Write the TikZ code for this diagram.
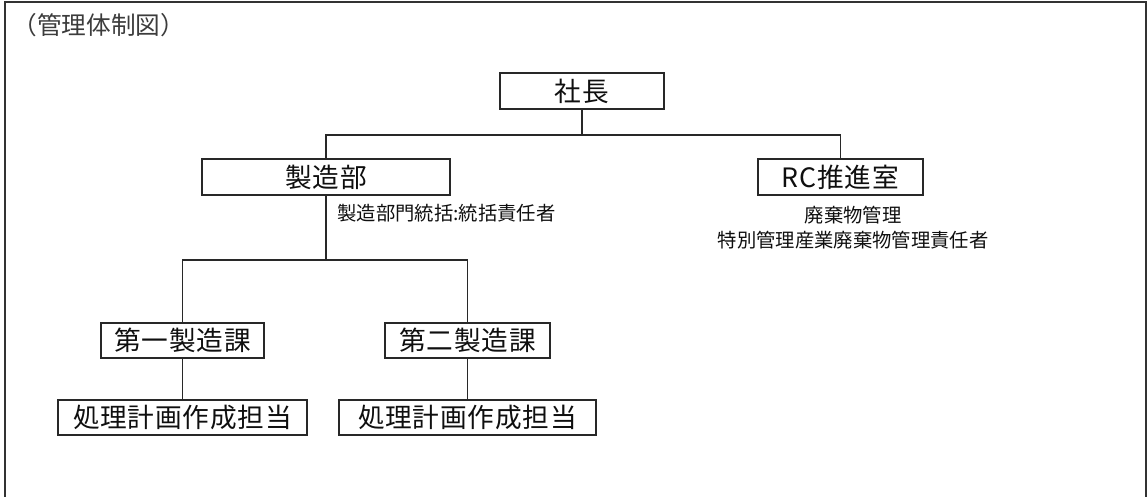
\documentclass[tikz,border=0pt]{standalone}
\usepackage{fontspec}
\setmainfont{Noto Sans CJK JP}

\tikzset{every picture/.style={line width=0.75pt}}

\begin{document}
\begin{tikzpicture}[x=0.75pt,y=0.75pt,yscale=-1,xscale=1,
  orgbox/.style={draw={rgb, 255:red, 40; green, 40; blue, 40 },line width=1.4pt,inner sep=0pt,font=\fontsize{20}{22}\selectfont\addfontfeatures{LetterSpace=3},text={rgb, 255:red, 15; green, 15; blue, 15 }},
  orgline/.style={draw={rgb, 255:red, 40; green, 40; blue, 40 },line width=1.4pt},
  notetext/.style={inner sep=0pt,font=\fontsize{14.5}{19}\selectfont,text={rgb, 255:red, 15; green, 15; blue, 15 }}]
%set diagram left start at 0, and has height of 496
\useasboundingbox (0,0) rectangle (1148,496);

%Shape: Frame
\draw [color={rgb, 255:red, 50; green, 50; blue, 50 },line width=1.5pt] (5,497) -- (5,2) -- (1146,2) -- (1146,497) ;

%Title
\node [anchor=west,inner sep=0pt,font=\fontsize{18.5}{22}\selectfont,text={rgb, 255:red, 60; green, 60; blue, 60 }] (title) at (12,25) {（管理体制図）};

%Boxes
\node [orgbox,minimum width=123pt,minimum height=27pt] (shacho) at (582,91) {社長};
\node [orgbox,minimum width=186pt,minimum height=27pt] (seizobu) at (326,177) {製造部};
\node [orgbox,minimum width=123.75pt,minimum height=27pt] (rc) at (840.5,177) {RC推進室};
\node [orgbox,minimum width=122.25pt,minimum height=26.25pt] (ka1) at (182.5,340.5) {第一製造課};
\node [orgbox,minimum width=123.75pt,minimum height=26.25pt] (ka2) at (467.5,340.5) {第二製造課};
\node [orgbox,minimum width=186.75pt,minimum height=26.25pt] (tanto1) at (182.5,417.5) {処理計画作成担当};
\node [orgbox,minimum width=192.75pt,minimum height=26.25pt] (tanto2) at (467.5,417.5) {処理計画作成担当};

%Notes
\node [notetext,anchor=west] (seizonote) at (337,213) {製造部門統括:統括責任者};
\node [notetext,align=center] (rcnote) at (853,227.5) {廃棄物管理\\特別管理産業廃棄物管理責任者};

%Straight Lines
\draw [orgline] (shacho.south) -- ++(0,25) -| (seizobu.north) ;
\draw [orgline] (shacho.south) -- ++(0,25) -| (rc.north) ;
\draw [orgline] (seizobu.south) -- ++(0,64) -| (ka1.north) ;
\draw [orgline] (seizobu.south) -- ++(0,64) -| (ka2.north) ;
\draw [orgline] (ka1) -- (tanto1) ;
\draw [orgline] (ka2) -- (tanto2) ;

\end{tikzpicture}
\end{document}
